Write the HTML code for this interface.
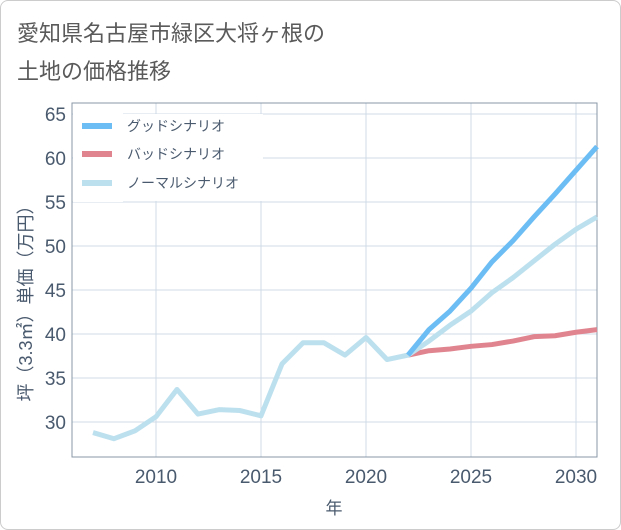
<!DOCTYPE html>
<html><head><meta charset="utf-8"><style>
body{margin:0;background:#fff;font-family:"Liberation Sans","Noto Sans CJK JP",sans-serif}
#wrap{position:relative;width:619px;height:528px;border:1px solid #ccc;border-radius:8px;overflow:hidden}
.t{position:absolute;left:16px;font-size:22px;color:#5a5a5a}
</style></head><body>
<div id="wrap">
<div class="t" style="top:15px">愛知県名古屋市緑区大将ヶ根の</div>
<div class="t" style="top:53px">土地の価格推移</div>
<svg id="c" width="621" height="530" style="position:absolute;left:-1px;top:-1px"></svg>
</div>
<script>
const years=[2007,2008,2009,2010,2011,2012,2013,2014,2015,2016,2017,2018,2019,2020,2021,2022,2023,2024,2025,2026,2027,2028,2029,2030,2031];
const normal=[28.8,28.1,29.0,30.6,33.7,30.9,31.4,31.3,30.7,36.6,39.0,39.0,37.6,39.6,37.1,37.6,39.2,41.0,42.6,44.7,46.4,48.3,50.2,51.9,53.3];
const fYears=[2022,2023,2024,2025,2026,2027,2028,2029,2030,2031];
const good=[37.6,40.5,42.6,45.2,48.2,50.6,53.3,55.9,58.6,61.3];
const bad=[37.6,38.1,38.3,38.6,38.8,39.2,39.7,39.8,40.2,40.5];
const yTicks=[30,35,40,45,50,55,60,65];
const xTicks=[2010,2015,2020,2025,2030];
const L=72,R=597,T=103,B=457;
const x=v=>156+(v-2010)*21;
const y=v=>422-(v-30)*8.8;
const svg=document.getElementById('c');const NS='http://www.w3.org/2000/svg';
function mk(t,a){const e=document.createElementNS(NS,t);for(const k in a)e.setAttribute(k,a[k]);svg.appendChild(e);return e;}
yTicks.forEach(v=>{
const g=mk('line',{x1:L,x2:R,y1:y(v),y2:y(v),stroke:'#cfdbe6','stroke-width':1});


const t=mk('text',{x:L-6,y:y(v)+7,'text-anchor':'end','font-size':19,fill:'#4a5a6e'});t.textContent=v;


});
xTicks.forEach(v=>{
const g=mk('line',{x1:x(v),x2:x(v),y1:T,y2:B,stroke:'#cfdbe6','stroke-width':1});


const t=mk('text',{x:x(v),y:B+26,'text-anchor':'middle','font-size':19,fill:'#4a5a6e'});t.textContent=v;


});
const ax=mk('path',{d:`M${L} ${T}V${B}H${R}V${T}Z`,fill:'none',stroke:'#8a97a6','stroke-width':1});


function line(xs,vs,col,name){const p=mk('polyline',{points:xs.map((yr,i)=>x(yr)+','+y(vs[i])).join(' '),fill:'none',stroke:col,'stroke-width':5,'stroke-linejoin':'round'});

}
line(fYears,bad,'#e0858f','bad-scenario-line');
line(years,normal,'#bde0ee','normal-scenario-line');
line(fYears,good,'#6cbdf4','good-scenario-line');
const lb=mk('rect',{x:73,y:110,width:50,height:92,fill:'#fff'});


const lb2=mk('rect',{x:123,y:114,width:140,height:87,fill:'#fff'});


[['グッドシナリオ','#6cbdf4',126],['バッドシナリオ','#e0858f',154],['ノーマルシナリオ','#bde0ee',183]].forEach(([n,c,yy])=>{
const s=mk('line',{x1:82,x2:112,y1:yy,y2:yy,stroke:c,'stroke-width':6});


const t=mk('text',{x:127,y:yy+5,'font-size':14,fill:'#4a5a6e'});t.textContent=n;


});
const xt=mk('text',{x:334,y:514,'text-anchor':'middle','font-size':17,fill:'#4a5a6e'});xt.textContent='年';


const yt=mk('text',{x:0,y:0,'text-anchor':'middle','font-size':18,fill:'#4a5a6e',transform:'translate(32,299) rotate(-90)'});yt.textContent='坪（3.3㎡）単価（万円）';


</script>
</body></html>
